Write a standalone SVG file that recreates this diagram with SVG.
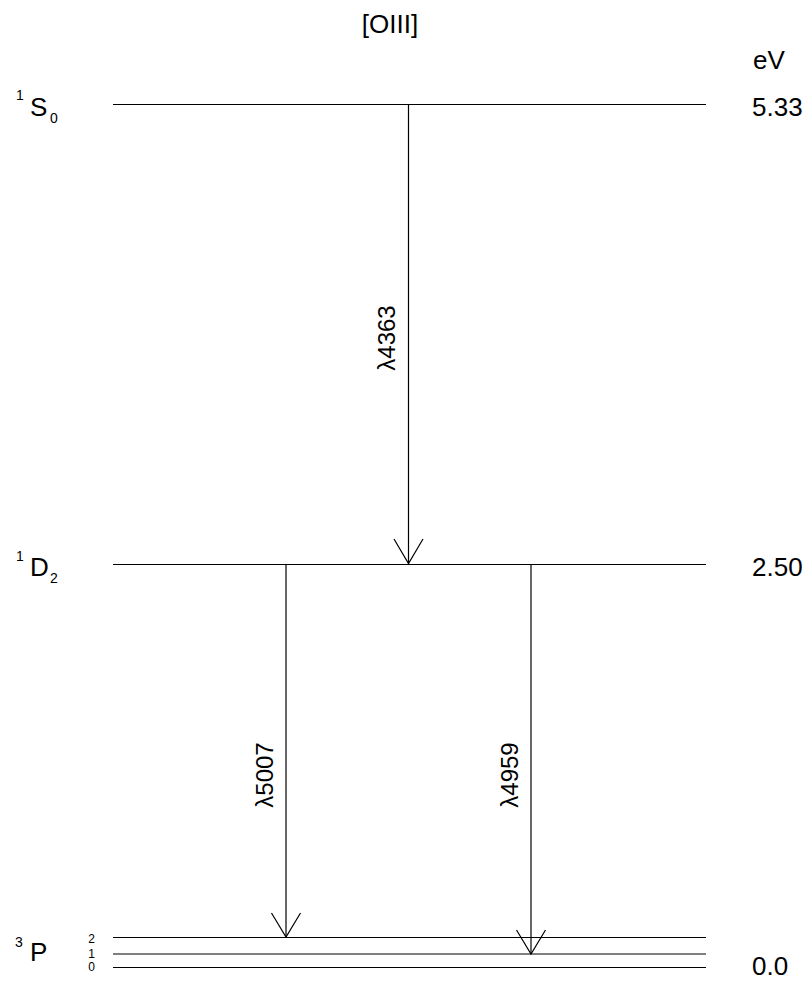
<svg xmlns="http://www.w3.org/2000/svg" width="811" height="982" viewBox="0 0 811 982">
<style>
text{font-family:"Liberation Sans",Arial,sans-serif;fill:#000}
.big{font-size:26px}
.lam{font-size:24px}
.sup{font-size:14px}
.tiny{font-size:12px}
.lvl{stroke:#000;stroke-width:1.2;fill:none}
.arr{stroke:#000;stroke-width:1.2;fill:none}
</style>
<rect width="811" height="982" fill="#fff"/>
<text class="big" x="390" y="33" text-anchor="middle">[OIII]</text>
<text class="big" x="753" y="69">eV</text>
<g id="S0">
<line class="lvl" x1="113" y1="104.5" x2="706" y2="104.5"/>
<text class="sup" x="16" y="100">1</text>
<text class="big" x="30" y="116">S</text>
<text class="sup" x="50" y="123">0</text>
<text class="big" x="752" y="116">5.33</text>
</g>
<g id="D2">
<line class="lvl" x1="113" y1="564.5" x2="706" y2="564.5"/>
<text class="sup" x="16" y="561">1</text>
<text class="big" x="30" y="576">D</text>
<text class="sup" x="50" y="583">2</text>
<text class="big" x="752" y="576">2.50</text>
</g>
<g id="P">
<line class="lvl" x1="113" y1="937.5" x2="706" y2="937.5"/>
<line class="lvl" x1="113" y1="954" x2="706" y2="954"/>
<line class="lvl" x1="113" y1="967.5" x2="706" y2="967.5"/>
<text class="sup" x="15" y="947">3</text>
<text class="big" x="30" y="961">P</text>
<text class="tiny" x="91.7" y="942.5" text-anchor="middle">2</text>
<text class="tiny" x="91.7" y="958" text-anchor="middle">1</text>
<text class="tiny" x="91.7" y="971" text-anchor="middle">0</text>
<text class="big" x="752" y="975">0.0</text>
</g>
<g id="connectors">
<line class="arr" x1="408.5" y1="104" x2="408.5" y2="564"/>
<polyline class="arr" points="394,539 408.5,563.5 423,539"/>
<line class="arr" x1="286" y1="564" x2="286" y2="937"/>
<polyline class="arr" points="271.5,913 286,937 300.5,913"/>
<line class="arr" x1="531" y1="564" x2="531" y2="954"/>
<polyline class="arr" points="516.5,930 531,954 545.5,930"/>
<text class="lam" transform="translate(395,338) rotate(-90)" text-anchor="middle">λ4363</text>
<text class="lam" transform="translate(273,775) rotate(-90)" text-anchor="middle">λ5007</text>
<text class="lam" transform="translate(518,775) rotate(-90)" text-anchor="middle">λ4959</text>
</g>
</svg>
